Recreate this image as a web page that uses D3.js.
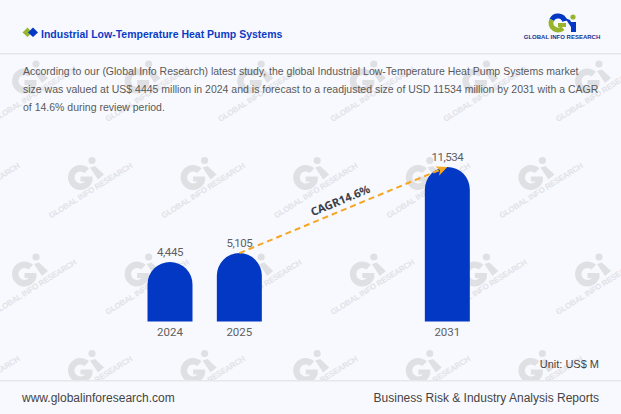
<!DOCTYPE html>
<html>
<head>
<meta charset="utf-8">
<script src="https://cdn.jsdelivr.net/npm/d3@7"></script>
<style>
  html, body { margin: 0; padding: 0; background: #f8f9fe; }
  svg { display: block; font-family: "Liberation Sans", Arial, sans-serif; }
  .tick text, .val { font-family: Roboto, sans-serif; font-size: 11.5px; fill: #5f5f5f; }
  .val { letter-spacing: -0.45px; }
</style>
</head>
<body>
<svg id="chart" width="621" height="414"></svg>
<script>
// chart values
const slots = ['2024', '2025', 'gap1', 'gap2', '2031'];
const years = ['2024', '2025', '2031'];
const values = [4445, 5105, 11534];
const cagrLabel = 'CAGR14.6%';
const cagrFrom = '2025';
const cagrTo = '2031';

const titleText = 'Industrial Low-Temperature Heat Pump Systems';
const introLines = [
  'According to our (Global Info Research) latest study, the global Industrial Low-Temperature Heat Pump Systems market',
  'size was valued at US$ 4445 million in 2024 and is forecast to a readjusted size of USD 11534 million by 2031 with a CAGR',
  'of 14.6% during review period.'
];
const unitText = 'Unit: US$ M';
const footerLeft = 'www.globalinforesearch.com';
const footerRight = 'Business Risk & Industry Analysis Reports';
const logoText = 'GLOBAL INFO RESEARCH';

const svg = d3.select('#chart');
const blue = '#0338c5', green = '#97b52c', orange = '#f5a623';

svg.append('rect').attr('width', 621).attr('height', 414).attr('fill', '#f8f9fe');

// watermark, clipped to the body between header and footer lines
svg.append('clipPath').attr('id', 'body-clip')
  .append('rect').attr('x', 0).attr('y', 54).attr('width', 621).attr('height', 326);

const wmG = svg.append('g').attr('clip-path', 'url(#body-clip)');
const arc = d3.arc();

function drawMark(g, col) {
  // the "G"
  g.append('path').attr('fill', col)
    .attr('transform', 'translate(-11.5,17)')
    .attr('d', arc({innerRadius: 6, outerRadius: 12.5, startAngle: 0.75, endAngle: -2 * Math.PI + 1.9}));
  g.append('rect').attr('fill', col).attr('x', -11.5).attr('y', 16).attr('width', 12).attr('height', 5);
  // the "i"
  g.append('circle').attr('fill', col).attr('r', 3.6);
  g.append('path').attr('fill', col).attr('d', 'M-2,7 L3,5.5 L12,14 L6,19 Z');
}

const rowYs = [64, 160.5, 257, 353.5];
rowYs.forEach((y, r) => {
  const startX = r % 2 === 0 ? 36 : -20.6;
  d3.range(0, 6).forEach(k => {
    const x = startX + k * 112.6;
    const m = wmG.append('g').attr('transform', `translate(${x},${y})`);
    drawMark(m, '#dfe0e4');
    m.append('text')
      .attr('transform', 'translate(-41,58) rotate(-32)')
      .attr('font-size', 8).attr('font-weight', 'bold')
      .attr('textLength', 97)
      .attr('fill', '#e1e2e8')
      .text(logoText);
  });
});

// header
svg.append('rect').attr('x', 0).attr('y', 53).attr('width', 621).attr('height', 1.5).attr('fill', '#e6e7eb');
svg.append('path').attr('fill', green).attr('d', 'M22.5,32.5 L27.5,27.5 L32,32.5 L27.5,37 Z');
svg.append('path').attr('fill', blue).attr('d', 'M28,32.5 L33,27.5 L38,32.5 L33,37 Z');
svg.append('text').attr('x', 41).attr('y', 38)
  .attr('font-size', 10.5).attr('font-weight', 'bold').attr('fill', '#0b3cc6')
  .text(titleText);

// logo
const logo = svg.append('g').attr('transform', 'translate(573,17)');
logo.append('path').attr('fill', blue).attr('transform', 'translate(-15,6)')
  .attr('d', arc({innerRadius: 4.5, outerRadius: 9.5, startAngle: -1.1, endAngle: 1.3}));
logo.append('path').attr('fill', green).attr('transform', 'translate(-15,6)')
  .attr('d', arc({innerRadius: 4.5, outerRadius: 9.5, startAngle: -1.1, endAngle: -3.9}));
logo.append('rect').attr('fill', green).attr('x', -15).attr('y', 6).attr('width', 8).attr('height', 4);
logo.append('circle').attr('fill', green).attr('r', 2.6);
logo.append('path').attr('fill', blue).attr('d', 'M-8,1 L-3,3 L-2,5 L3,5 L3,15 L-2,15 L-2,10 Z');
svg.append('text').attr('x', 562).attr('y', 39).attr('text-anchor', 'middle')
  .attr('font-size', 6).attr('font-weight', 'bold').attr('fill', '#14308f')
  .text(logoText);

// intro paragraph
svg.append('g').selectAll('text').data(introLines).join('text')
  .attr('x', 23).attr('y', (d, i) => 75 + i * 18)
  .attr('font-size', 10.5).attr('fill', '#595959')
  .text(d => d);

// scales
const x = d3.scaleBand().domain(slots).range([135.33, 482]).paddingInner(0.351).paddingOuter(0.1755);
const y = d3.scaleLinear().domain([0, d3.max(values)]).range([321.5, 167]);
const valueOf = yr => values[years.indexOf(yr)];
const cx = yr => x(yr) + x.bandwidth() / 2;

// bars with fully rounded tops
const r = x.bandwidth() / 2;
svg.append('g').selectAll('path').data(years).join('path')
  .attr('fill', blue)
  .attr('d', d => {
    const l = x(d), w = x.bandwidth(), top = y(valueOf(d)), base = y(0);
    return `M${l},${base}V${top + r}A${r},${r} 0 0 1 ${l + w},${top + r}V${base}Z`;
  });

svg.append('g').selectAll('text').data(years).join('text')
  .attr('class', 'val')
  .attr('x', cx).attr('y', d => y(valueOf(d)) - 6)
  .attr('text-anchor', 'middle')
  .text(d => d3.format(',')(valueOf(d)));

// axis
const axis = svg.append('g').attr('transform', `translate(0,${y(0)})`)
  .call(d3.axisBottom(x).tickValues(years).tickSize(0).tickPadding(6));
axis.select('.domain').remove();

// CAGR arrow
const x0 = cx(cagrFrom), y0 = y(valueOf(cagrFrom));
const x1 = cx(cagrTo), y1 = y(valueOf(cagrTo));
const ang = Math.atan2(y1 - y0, x1 - x0) * 180 / Math.PI;
svg.append('line').attr('x1', x0).attr('y1', y0).attr('x2', x1 - 8).attr('y2', y1 + 3)
  .attr('stroke', orange).attr('stroke-width', 2).attr('stroke-dasharray', '6 4');
svg.append('path').attr('fill', orange)
  .attr('transform', `translate(${x1},${y1}) rotate(${ang})`)
  .attr('d', 'M0,0 L-11,-5 L-8,0 L-11,5 Z');
svg.append('text')
  .attr('transform', `translate(${(x0 + x1) / 2 - 3},${(y0 + y1) / 2 - 9.5}) rotate(${ang})`)
  .attr('text-anchor', 'middle').attr('dy', '0.35em')
  .attr('font-family', 'Noto Sans').attr('font-size', 11.3).attr('font-weight', 'bold').attr('fill', '#3b3f48')
  .text(cagrLabel);

// footer
svg.append('text').attr('x', 599).attr('y', 368).attr('text-anchor', 'end')
  .attr('font-size', 11).attr('fill', '#444').text(unitText);
svg.append('rect').attr('x', 0).attr('y', 380).attr('width', 621).attr('height', 1.5).attr('fill', '#e6e7eb');
svg.append('text').attr('x', 22).attr('y', 402)
  .attr('font-size', 12).attr('fill', '#444').text(footerLeft);
svg.append('text').attr('x', 599).attr('y', 402).attr('text-anchor', 'end')
  .attr('font-size', 12).attr('fill', '#444').text(footerRight);
</script>
</body>
</html>
